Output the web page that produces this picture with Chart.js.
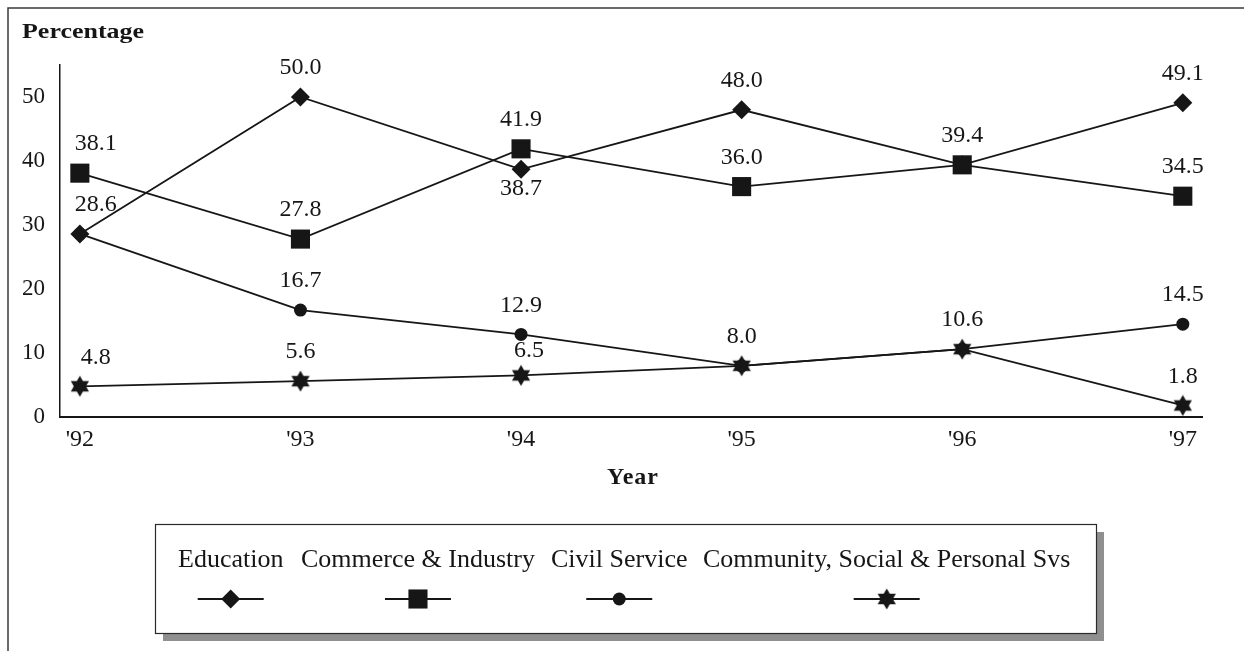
<!DOCTYPE html>
<html>
<head>
<meta charset="utf-8">
<script src="https://cdn.jsdelivr.net/npm/chart.js@4.4.1/dist/chart.umd.min.js"></script>
<style>
  html, body { margin: 0; padding: 0; background: #fff; }
  #wrap { width: 1244px; height: 651px; position: relative; }
</style>
</head>
<body>
<div id="wrap"><canvas id="c" width="1244" height="651"></canvas></div>
<script>
// ---- data ----
const years = ["'92", "'93", "'94", "'95", "'96", "'97"];
const education = [28.6, 50.0, 38.7, 48.0, 39.4, 49.1];
const commerce = [38.1, 27.8, 41.9, 36.0, 39.4, 34.5];
const civilService = [28.6, 16.7, 12.9, 8.0, 10.6, 14.5];
const community = [4.8, 5.6, 6.5, 8.0, 10.6, 1.8];
const seriesNames = ["Education", "Commerce & Industry", "Civil Service", "Community, Social & Personal Svs"];
const yTicks = [0, 10, 20, 30, 40, 50];

const FONT = "'Liberation Serif', 'Times New Roman', serif";
const INK = '#161616';

function makeStar(size) {
  const c = document.createElement('canvas');
  c.width = size; c.height = size;
  const g = c.getContext('2d');
  const cx = size / 2, cy = size / 2, R = size / 2 - 0.5, r = R * 0.58;
  g.beginPath();
  for (let i = 0; i < 12; i++) {
    const a = -Math.PI / 2 + i * Math.PI / 6;
    const rad = i % 2 === 0 ? R : r;
    const x = cx + rad * Math.cos(a), y = cy + rad * Math.sin(a);
    if (i === 0) g.moveTo(x, y); else g.lineTo(x, y);
  }
  g.closePath();
  g.fillStyle = INK;
  g.fill();
  return c;
}
const starImg = makeStar(22);

function toPoints(arr) { return arr.map((v, i) => ({ x: i, y: v })); }

const styles = [
  { pointStyle: 'rectRot', pointRadius: 9.5 },
  { pointStyle: 'rect', pointRadius: 13.5 },
  { pointStyle: 'circle', pointRadius: 6.5 },
  { pointStyle: starImg, pointRadius: 11 }
];
const allSeries = [education, commerce, civilService, community];

const datasets = allSeries.map((arr, i) => ({
  label: seriesNames[i],
  data: toPoints(arr),
  borderColor: INK,
  backgroundColor: INK,
  pointBackgroundColor: INK,
  pointBorderColor: INK,
  pointBorderWidth: 0,
  borderWidth: 1.8,
  tension: 0,
  pointStyle: styles[i].pointStyle,
  pointRadius: styles[i].pointRadius,
  pointHoverRadius: styles[i].pointRadius
}));

const decorPlugin = {
  id: 'decor',
  beforeDraw(chart) {
    const ctx = chart.ctx;
    ctx.save();
    ctx.fillStyle = '#fff';
    ctx.fillRect(0, 0, chart.width, chart.height);
    ctx.strokeStyle = '#3a3a3a';
    ctx.lineWidth = 1.5;
    ctx.strokeRect(8, 8, 1400, 800);
    ctx.restore();
  },
  afterDraw(chart) {
    const ctx = chart.ctx;
    ctx.save();
    ctx.fillStyle = INK;
    ctx.font = 'bold 22px ' + FONT;
    ctx.textAlign = 'left';
    ctx.textBaseline = 'alphabetic';
    ctx.save();
    ctx.translate(22, 38);
    ctx.scale(1.18, 1);
    ctx.fillText('Percentage', 0, 0);
    ctx.restore();
    ctx.font = 'bold 24px ' + FONT;
    ctx.textAlign = 'center';
    ctx.letterSpacing = '1px';
    ctx.fillText('Year', 633, 484);
    ctx.letterSpacing = '0px';

    // legend box with shadow
    const bx = 155, by = 524, bw = 941, bh = 109, sh = 8;
    ctx.fillStyle = '#8f8f8f';
    ctx.fillRect(bx + sh, by + sh, bw, bh);
    ctx.fillStyle = '#fff';
    ctx.fillRect(bx, by, bw, bh);
    ctx.strokeStyle = '#2a2a2a';
    ctx.lineWidth = 1.2;
    ctx.strokeRect(bx + 0.5, by + 0.5, bw, bh);

    const textX = [178, 301, 551, 703];
    ctx.font = '26px ' + FONT;
    ctx.textAlign = 'left';
    chart.data.datasets.forEach((ds, i) => {
      ctx.fillStyle = INK;
      ctx.fillText(ds.label, textX[i], 567);
      const w = ctx.measureText(ds.label).width;
      const mx = textX[i] + w / 2;
      const my = 599;
      ctx.strokeStyle = INK;
      ctx.lineWidth = 2;
      ctx.beginPath();
      ctx.moveTo(mx - 33, my);
      ctx.lineTo(mx + 33, my);
      ctx.stroke();
      ctx.fillStyle = INK;
      Chart.helpers.drawPoint(ctx, {
        pointStyle: ds.pointStyle,
        radius: ds.pointRadius,
        borderWidth: 0,
        rotation: 0
      }, mx, my);
    });
    ctx.restore();
  },
  afterDatasetsDraw(chart) {
    const ctx = chart.ctx;
    ctx.save();
    ctx.font = '24px ' + FONT;
    ctx.fillStyle = INK;
    ctx.textAlign = 'center';
    ctx.textBaseline = 'middle';
    const xs = chart.scales.x, ys = chart.scales.y;
    allSeries.forEach((arr, i) => {
      arr.forEach((v, j) => {
        for (let k = 0; k < i; k++) if (allSeries[k][j] === v) return;
        let dx = j === 0 ? 16 : 0;
        let dy = -29;
        if (i === 0 && j === 2) dy = 19;
        if (i === 3 && j === 2) { dy = -25; dx = 8; }
        ctx.fillText(v.toFixed(1), xs.getPixelForValue(j) + dx, ys.getPixelForValue(v) + dy);
      });
    });
    ctx.restore();
  }
};

new Chart(document.getElementById('c'), {
  type: 'line',
  data: { datasets },
  options: {
    responsive: false,
    devicePixelRatio: 1,
    animation: false,
    events: [],
    layout: { padding: { left: 0, top: 65, right: 42, bottom: 0 } },
    plugins: { legend: { display: false }, tooltip: { enabled: false } },
    scales: {
      x: {
        type: 'linear',
        min: -0.09,
        max: 5.087,
        grid: { display: false, drawTicks: false },
        border: { display: true, color: INK, width: 2 },
        afterBuildTicks(scale) { scale.ticks = years.map((_, i) => ({ value: i })); },
        afterFit(scale) { scale.height = 234; },
        ticks: {
          color: INK,
          font: { family: FONT, size: 24 },
          padding: 8,
          maxRotation: 0,
          autoSkip: false,
          callback: (v) => years[v] ?? ''
        }
      },
      y: {
        type: 'linear',
        min: 0,
        max: 55,
        grid: { display: false, drawTicks: false },
        border: { display: true, color: INK, width: 1.5 },
        afterBuildTicks(scale) { scale.ticks = yTicks.map(v => ({ value: v })); },
        afterFit(scale) { scale.width = 60; },
        ticks: {
          color: INK,
          font: { family: FONT, size: 23 },
          padding: 15,
          callback: (v) => String(v)
        }
      }
    }
  },
  plugins: [decorPlugin]
});
</script>
</body>
</html>
